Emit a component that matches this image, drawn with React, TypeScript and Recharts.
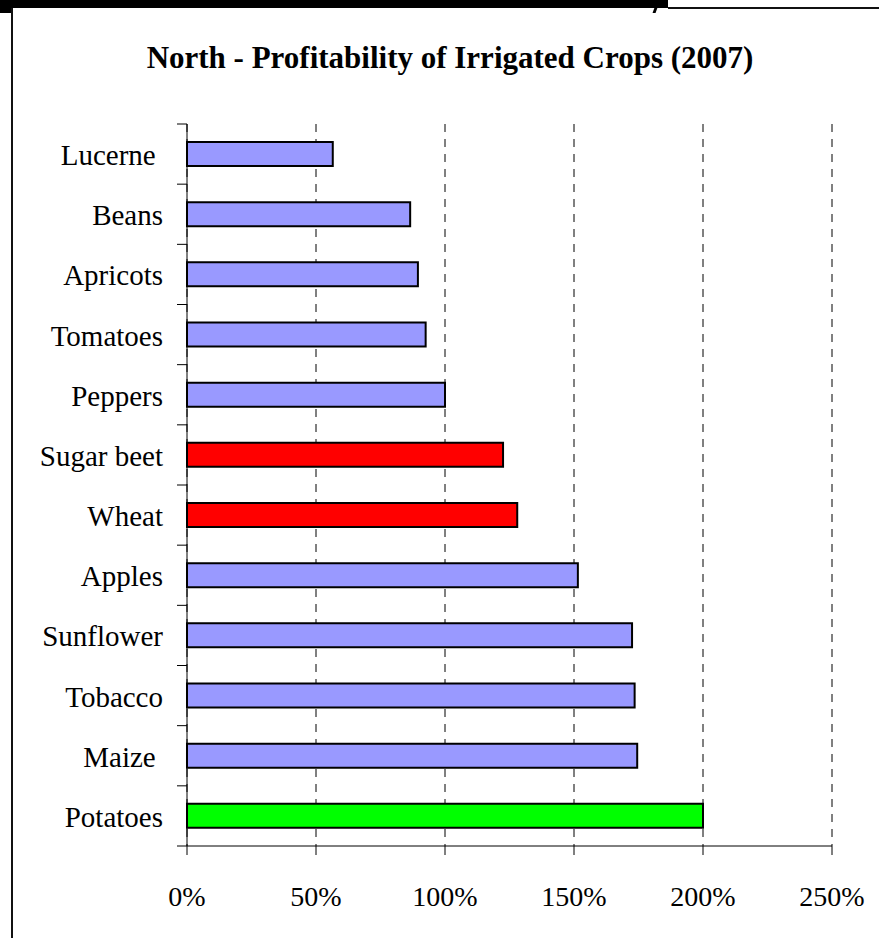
import React from 'react';
import { BarChart, Bar, XAxis, YAxis, CartesianGrid, Cell } from 'recharts';

const categories = [
  'Lucerne ',
  'Beans',
  'Apricots',
  'Tomatoes',
  'Peppers',
  'Sugar beet',
  'Wheat',
  'Apples',
  'Sunflower',
  'Tobacco',
  'Maize ',
  'Potatoes',
];
const profitability = [56.5, 86.5, 89.5, 92.5, 100, 122.5, 128, 151.5, 172.5, 173.5, 174.5, 200];
const barColors = [
  '#9999FF', '#9999FF', '#9999FF', '#9999FF', '#9999FF',
  '#FF0000', '#FF0000',
  '#9999FF', '#9999FF', '#9999FF', '#9999FF',
  '#00FF00',
];
const xTicks = [0, 50, 100, 150, 200, 250];
const title = 'North - Profitability of Irrigated Crops (2007)';

const data = categories.map((name, i) => ({ name, value: profitability[i], color: barColors[i] }));

const W = 879;
const H = 938;
const PLOT_TOP = 124;
const PLOT_BOTTOM = 846;
const PLOT_LEFT = 187;
const PLOT_RIGHT = 832;
const BAND = (PLOT_BOTTOM - PLOT_TOP) / categories.length;
const FONT = '"Liberation Serif", "Times New Roman", serif';

const YTick = (props: any) => {
  const { y, payload, index } = props;
  return (
    <g>
      <text
        x={PLOT_LEFT - 24}
        y={y + 1}
        textAnchor="end"
        dominantBaseline="central"
        fontSize={29}
        fontFamily={FONT}
        fill="#000"
        style={{ whiteSpace: 'pre' }}
      >
        {payload.value}
      </text>
      <line x1={PLOT_LEFT - 10} x2={PLOT_LEFT} y1={y - BAND / 2} y2={y - BAND / 2} stroke="#000" strokeWidth={1} />
      {index === categories.length - 1 && (
        <line x1={PLOT_LEFT - 10} x2={PLOT_LEFT} y1={y + BAND / 2} y2={y + BAND / 2} stroke="#000" strokeWidth={1} />
      )}
    </g>
  );
};

export default function App() {
  return (
    <div style={{ position: 'absolute', left: 0, top: 0, width: W, height: H, background: '#fff', overflow: 'hidden' }}>
      {/* frame decorations */}
      <div style={{ position: 'absolute', left: 0, top: 0, width: 668, height: 8, background: '#000' }} />
      <div style={{ position: 'absolute', left: 0, top: 0, width: 12, height: 13, background: '#000' }} />
      <div style={{ position: 'absolute', left: 668, top: 7, width: W - 668, height: 2, background: '#111' }} />
      <div style={{ position: 'absolute', left: 11, top: 8, width: 2, height: H - 8, background: '#111' }} />
      <div style={{ position: 'absolute', left: 654, top: 5, width: 3, height: 8, background: '#000', transform: 'skewX(-20deg)' }} />
      <div
        style={{
          position: 'absolute',
          left: 450,
          top: 37,
          transform: 'translateX(-50%)',
          whiteSpace: 'nowrap',
          fontFamily: FONT,
          fontWeight: 'bold',
          fontSize: 31,
          color: '#000',
          lineHeight: '42px',
        }}
      >
        {title}
      </div>
      <div style={{ position: 'absolute', left: 0, top: 0 }}>
        <BarChart
          width={W}
          height={H}
          data={data}
          layout="vertical"
          margin={{ top: PLOT_TOP, right: W - PLOT_RIGHT, bottom: 32, left: 0 }}
          barSize={24}
        >
          <CartesianGrid horizontal={false} vertical stroke="#000" strokeDasharray="8 7" />
          <XAxis
            type="number"
            domain={[0, 250]}
            ticks={xTicks}
            interval={0}
            tickFormatter={(v: number) => `${v}%`}
            tickSize={9}
            tickMargin={31}
            height={H - PLOT_BOTTOM - 32}
            axisLine={{ stroke: '#000' }}
            tickLine={{ stroke: '#000' }}
            tick={{ fontSize: 28, fill: '#000', fontFamily: FONT }}
          />
          <YAxis
            type="category"
            dataKey="name"
            width={PLOT_LEFT}
            interval={0}
            tickLine={false}
            axisLine={{ stroke: '#000' }}
            tick={<YTick />}
          />
          <Bar dataKey="value" stroke="#000" strokeWidth={2} isAnimationActive={false}>
            {data.map((d, i) => (
              <Cell key={i} fill={d.color} />
            ))}
          </Bar>
        </BarChart>
      </div>
    </div>
  );
}
